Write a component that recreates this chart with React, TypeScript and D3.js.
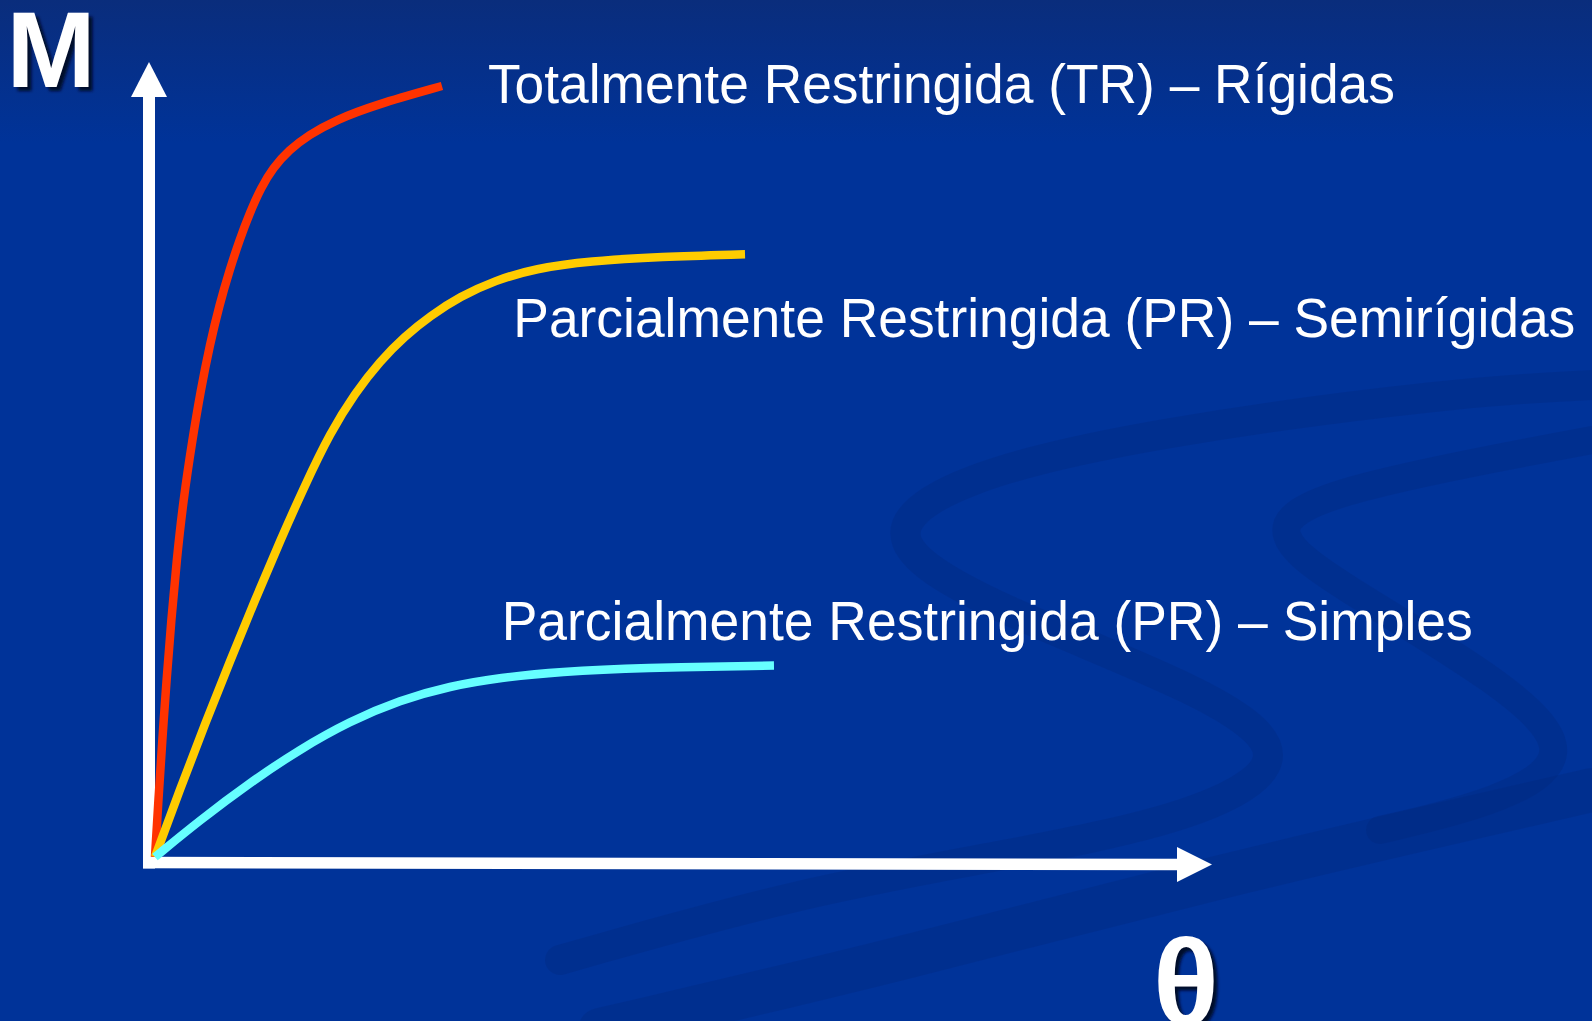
import React, { useEffect, useRef } from "react";
import * as d3 from "d3";

const width = 1592;
const height = 1021;

// rotation θ and moment M, both in % of the axis length
const trTheta = [0, 0.32, 0.69, 1.09, 1.54, 2.05, 2.68, 3.53, 4.33, 5.18, 6.09, 7.06, 7.99, 9.0, 10.02, 11.15, 12.69, 14.53, 17.09, 20.78, 27.15];
const trMoment = [0, 7.17, 14.72, 22.26, 29.81, 37.36, 44.91, 52.45, 58.74, 64.4, 69.43, 73.84, 77.61, 81.13, 84.15, 86.67, 88.93, 90.82, 92.7, 94.59, 96.98];

const semiTheta = [0, 2.37, 4.73, 7.1, 9.46, 11.83, 14.19, 16.56, 18.92, 21.29, 23.65, 26.02, 28.86, 32.17, 35.95, 41.15, 47.78, 55.82];
const semiMoment = [0, 8.55, 16.73, 24.65, 32.33, 39.75, 46.79, 53.33, 58.36, 62.39, 65.53, 68.05, 70.5, 72.52, 74.03, 74.97, 75.5, 75.81];

const simpTheta = [0, 4.26, 8.99, 13.72, 18.45, 23.18, 27.91, 32.64, 38.32, 45.88, 58.56];
const simpMoment = [0, 4.64, 9.36, 13.57, 17.09, 19.74, 21.5, 22.57, 23.32, 23.82, 24.08];

const seriesNames = ["tr", "semi", "simp"];
const seriesColors = ["#ff3300", "#ffcc00", "#66ffff"];

const labelTexts = [
  "Totalmente Restringida (TR) – Rígidas",
  "Parcialmente Restringida (PR) – Semirígidas",
  "Parcialmente Restringida (PR) – Simples",
];
// label anchors, same units as the curves
const labelTheta = [31.5, 33.9, 32.8];
const labelMoment = [94.8, 65.4, 27.3];
const labelLengths = [907, 1062, 971];

function App() {
  const ref = useRef<SVGSVGElement>(null);

  useEffect(() => {
    const svg = d3.select(ref.current);
    svg.selectAll("*").remove();

    const x = d3.scaleLinear().domain([0, 100]).range([155, 1212]);
    const y = d3.scaleLinear().domain([0, 100]).range([857, 62]);

    const defs = svg.append("defs");
    const grad = defs
      .append("linearGradient")
      .attr("id", "bg")
      .attr("x1", 0)
      .attr("y1", 0)
      .attr("x2", 0)
      .attr("y2", 1);
    grad.append("stop").attr("offset", "0%").attr("stop-color", "#0a2d7c");
    grad.append("stop").attr("offset", "14%").attr("stop-color", "#003399");
    grad.append("stop").attr("offset", "100%").attr("stop-color", "#003399");

    const blur = defs.append("filter").attr("id", "shadow");
    blur.append("feGaussianBlur").attr("stdDeviation", 1.5);

    svg.append("rect").attr("width", width).attr("height", height).attr("fill", "url(#bg)");

    // background swirls
    const swirl = d3.line().curve(d3.curveBasis);
    const swirls: [number, number][][] = [
      [[1592, 385], [1457, 392], [1154, 432], [952, 478], [872, 540], [1002, 612], [1204, 690], [1300, 756], [1204, 816], [1002, 856], [800, 892], [560, 960]],
      [[1592, 440], [1305, 494], [1272, 535], [1330, 580], [1507, 684], [1578, 756], [1500, 802], [1380, 830]],
      [[600, 1030], [900, 960], [1200, 880], [1592, 790]],
    ];
    const swirlWidths = [30, 28, 44];
    swirls.forEach((pts, i) => {
      svg
        .append("path")
        .attr("d", swirl(pts))
        .attr("fill", "none")
        .attr("stroke", "#00287a")
        .attr("stroke-opacity", 0.3)
        .attr("stroke-width", swirlWidths[i])
        .attr("stroke-linecap", "round");
    });

    // axes
    const ax = x(0) - 6;
    const ay = y(0) + 5.5;
    svg
      .append("line")
      .attr("x1", ax)
      .attr("y1", ay + 6)
      .attr("x2", ax)
      .attr("y2", 95)
      .attr("stroke", "white")
      .attr("stroke-width", 12);
    svg
      .append("path")
      .attr("d", `M${ax},62L${ax - 18},97L${ax + 18},97Z`)
      .attr("fill", "white");
    svg
      .append("line")
      .attr("x1", ax - 6)
      .attr("y1", ay)
      .attr("x2", 1180)
      .attr("y2", ay + 2)
      .attr("stroke", "white")
      .attr("stroke-width", 11.5);
    svg
      .append("path")
      .attr("d", `M1212,${ay + 2}L1177,${ay - 15.5}L1177,${ay + 19.5}Z`)
      .attr("fill", "white");

    // curves
    const line = d3
      .line<number[]>()
      .curve(d3.curveBasis)
      .x((d) => x(d[0]))
      .y((d) => y(d[1]));
    const thetas = [trTheta, semiTheta, simpTheta];
    const moments = [trMoment, semiMoment, simpMoment];
    seriesNames.forEach((name, i) => {
      const pts = thetas[i].map((t, j) => [t, moments[i][j]]);
      svg
        .append("path")
        .attr("class", "curve-" + name)
        .attr("d", line(pts))
        .attr("fill", "none")
        .attr("stroke", seriesColors[i])
        .attr("stroke-width", 8.5);
    });

    // labels
    labelTexts.forEach((t, i) => {
      svg
        .append("text")
        .attr("x", x(labelTheta[i]))
        .attr("y", y(labelMoment[i]))
        .attr("fill", "white")
        .attr("font-family", "'Liberation Sans', Arial, sans-serif")
        .attr("font-size", 56)
        .attr("textLength", labelLengths[i])
        .attr("lengthAdjust", "spacingAndGlyphs")
        .text(t);
    });

    // axis titles with drop shadow
    const titles = [
      { t: "M", x: 51, y: 87, size: 107 },
      { t: "θ", x: 1186, y: 1025, size: 122 },
    ];
    titles.forEach((d) => {
      svg
        .append("text")
        .attr("x", d.x + 4)
        .attr("y", d.y + 4)
        .attr("text-anchor", "middle")
        .attr("fill", "#000a2a")
        .attr("filter", "url(#shadow)")
        .attr("font-family", "'Liberation Sans', Arial, sans-serif")
        .attr("font-weight", "bold")
        .attr("font-size", d.size)
        .text(d.t);
      svg
        .append("text")
        .attr("x", d.x)
        .attr("y", d.y)
        .attr("text-anchor", "middle")
        .attr("fill", "white")
        .attr("font-family", "'Liberation Sans', Arial, sans-serif")
        .attr("font-weight", "bold")
        .attr("font-size", d.size)
        .text(d.t);
    });
  }, []);

  return (
    <svg
      ref={ref}
      width={width}
      height={height}
      style={{ position: "absolute", left: 0, top: 0, display: "block" }}
    />
  );
}

export default App;
